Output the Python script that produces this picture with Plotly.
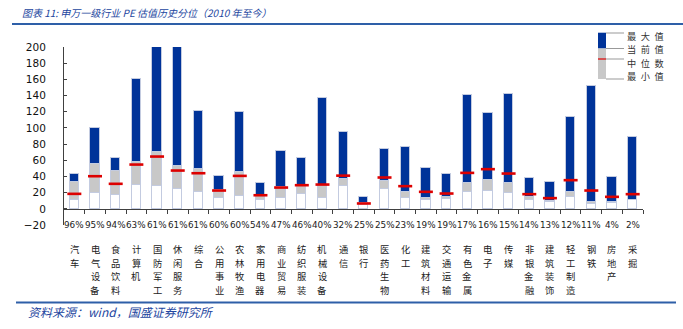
import plotly.graph_objects as go

# 申万一级行业 PE (2010 年至今)
industries = ["汽车", "电气设备", "食品饮料", "计算机", "国防军工", "休闲服务", "综合",
              "公用事业", "农林牧渔", "家用电器", "商业贸易", "纺织服装", "机械设备", "通信",
              "银行", "医药生物", "化工", "建筑材料", "交通运输", "有色金属", "电子", "传媒",
              "非银金融", "建筑装饰", "轻工制造", "钢铁", "房地产", "采掘"]
percentile = ["96%", "95%", "94%", "63%", "61%", "61%", "61%", "60%", "60%", "54%",
              "47%", "46%", "40%", "32%", "25%", "25%", "23%", "19%", "19%", "17%",
              "16%", "15%", "14%", "13%", "12%", "11%", "4%", "2%"]
pe_max = [43.6, 100, 63.4, 160, 230, 215, 121, 40.3, 119.8, 32, 71.6, 63.4, 136.6, 95.5,
          14.8, 74.5, 76.5, 51, 43.2, 140.3, 118.5, 142.4, 38.3, 33.7, 113.6, 151.9, 39, 88.5]
pe_cur = [33.3, 56, 46.5, 58, 70.8, 53.5, 49, 23, 45.7, 17.5, 27, 28, 28.8, 37.4,
          7, 35, 21.4, 13.6, 14.8, 31.7, 35.4, 31.3, 14.4, 9.9, 21.4, 8.6, 8, 11.5]
pe_med = [18.5, 40.3, 30.9, 54.7, 64.6, 47.3, 44, 22.6, 40.7, 16.8, 26.3, 29.2, 30, 41,
          6.6, 38.7, 28, 21, 18.9, 44.4, 49, 43.6, 18.1, 13.2, 35.4, 22.6, 14.8, 18.1]
pe_min = [11.5, 20, 16.9, 30, 28.4, 25, 21, 13.6, 15.6, 10.5, 13, 18.5, 12.8, 28.8,
          5, 23.9, 13.2, 10.7, 11.9, 21, 22.6, 19.8, 10.7, 8.6, 14.4, 5.8, 7.5, 11.1]

BLUE = "#003399"
GRAY = "#c8c8c8"
RED = "#dd0000"
EDGE = "#c3cbe0"
TXT_BLUE = "#2346a0"
NUM_FONT = "DejaVu Sans"
CJK_FONT = "Noto Sans CJK SC"

W, H = 683, 329
ML, MR, MT, MB = 64, 40, 47, 104
YMIN, YMAX = -20, 200

x = list(range(len(industries)))
bar_w = 0.45

fig = go.Figure()
fig.add_bar(x=x, y=pe_min, width=bar_w, marker=dict(color="white", line=dict(color=EDGE, width=1)),
            name="最小值", showlegend=False)
fig.add_bar(x=x, y=[c - m for c, m in zip(pe_cur, pe_min)], width=bar_w,
            marker=dict(color=GRAY, line=dict(color=EDGE, width=1)), name="当前值", showlegend=False)
fig.add_bar(x=x, y=[mx - c for mx, c in zip(pe_max, pe_cur)], width=bar_w,
            marker=dict(color=BLUE, line=dict(color=EDGE, width=1)), name="最大值", showlegend=False)
fig.add_scatter(x=x, y=pe_med, mode="markers", name="中位数", showlegend=False,
                marker=dict(symbol="line-ew", size=10, line=dict(color=RED, width=2.6)))

# percentile row and vertical industry names under the axis (one glyph per line)
CHAR_STEP = 13.5
for i, (name, p) in enumerate(zip(industries, percentile)):
    fig.add_annotation(x=i, y=YMIN, xref="x", yref="y", text=p, showarrow=False,
                       yanchor="middle", font=dict(family=NUM_FONT, size=8.8, color="#222"))
    for k, ch in enumerate(name):
        fig.add_annotation(x=i, y=YMIN, xref="x", yref="y", text=ch,
                           showarrow=False, yanchor="top", yshift=-16 - k * CHAR_STEP,
                           borderpad=0,
                           font=dict(family=CJK_FONT, size=9.3, color="#222"))

pw, ph = W - ML - MR, H - MT - MB


def px(xp):
    return (xp - ML) / pw


def py(yp):
    return (H - MB - yp) / ph


shapes = []
# legend key
shapes.append(dict(type="rect", xref="paper", yref="paper", x0=px(598), x1=px(606),
                   y0=py(48.5), y1=py(32.7), fillcolor=BLUE, line=dict(width=0), layer="above"))
shapes.append(dict(type="rect", xref="paper", yref="paper", x0=px(598), x1=px(606),
                   y0=py(79), y1=py(48.5), fillcolor=GRAY, line=dict(width=0), layer="above"))
shapes.append(dict(type="line", xref="paper", yref="paper", x0=px(598), x1=px(606),
                   y0=py(59), y1=py(59), line=dict(color=RED, width=1.2), layer="above"))
legend_rows = [("最大值", 33, 36), ("当前值", 48.5, 49.4), ("中位数", 59, 62.8), ("最小值", 79, 76.2)]
for label, yl, yt in legend_rows:
    shapes.append(dict(type="line", xref="paper", yref="paper", x0=px(606), x1=px(624),
                       y0=py(yl), y1=py(yl), line=dict(color="#999", width=1)))
    fig.add_annotation(xref="paper", yref="paper", x=px(626), y=py(yt),
                       text="\u2002".join(label), showarrow=False,
                       xanchor="left", yanchor="middle", borderpad=0,
                       font=dict(family=CJK_FONT, size=9.2, color="#333"))

# header and footer rules
shapes.append(dict(type="line", xref="paper", yref="paper", x0=px(12), x1=px(683),
                   y0=py(24), y1=py(24), line=dict(color="#2e5fa8", width=2)))
shapes.append(dict(type="line", xref="paper", yref="paper", x0=px(16), x1=px(676),
                   y0=py(302.5), y1=py(302.5), line=dict(color="#2e5fa8", width=2)))
fig.update_layout(shapes=shapes)

fig.add_annotation(xref="paper", yref="paper", x=px(20), y=py(12),
                   text="<i>图表 11: 申万一级行业 PE 估值历史分位（2010 年至今）</i>",
                   showarrow=False, xanchor="left", yanchor="middle",
                   font=dict(family=CJK_FONT, size=10, color=TXT_BLUE))
fig.add_annotation(xref="paper", yref="paper", x=px(26), y=py(311),
                   text="<i>资料来源：wind，国盛证券研究所</i>",
                   showarrow=False, xanchor="left", yanchor="middle",
                   font=dict(family=CJK_FONT, size=12, color=TXT_BLUE))

fig.update_layout(
    width=W, height=H, barmode="stack", bargap=0,
    margin=dict(l=ML, r=MR, t=MT, b=MB, pad=0),
    paper_bgcolor="white", plot_bgcolor="white",
    xaxis=dict(range=[-0.5, len(industries) - 0.5], anchor="free",
               position=(0 - YMIN) / (YMAX - YMIN),
               showline=True, linecolor="#404040", linewidth=1,
               tickmode="array", tickvals=[i + 0.5 for i in x], ticks="outside",
               ticklen=4, tickcolor="#404040", showticklabels=False,
               showgrid=False, zeroline=False, fixedrange=True),
    yaxis=dict(range=[YMIN, YMAX], dtick=20, showline=True, linecolor="#404040",
               linewidth=1, ticks="inside", ticklen=3, tickcolor="#404040",
               showgrid=False, zeroline=False, ticklabelstandoff=15,
               tickfont=dict(family=NUM_FONT, size=10.5, color="#111")),
)

fig.write_html("out.html")
